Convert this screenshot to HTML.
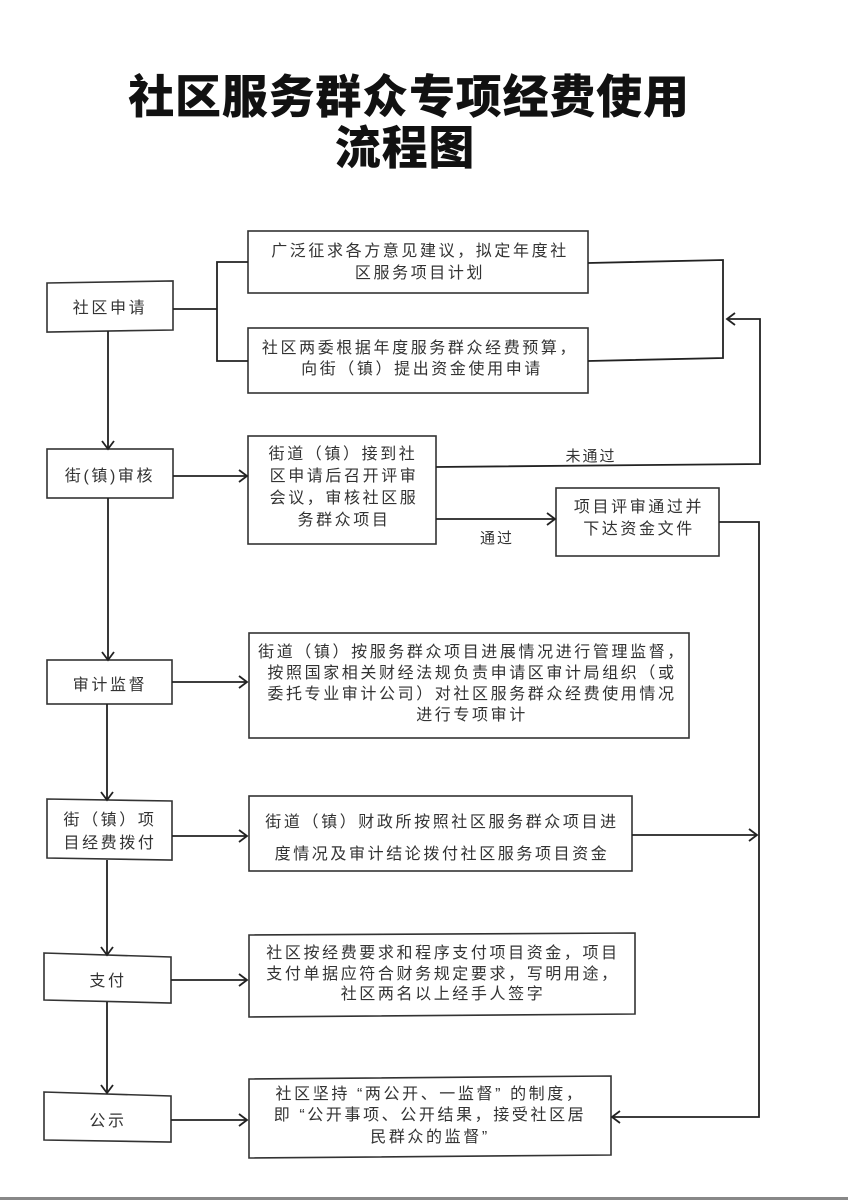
<!DOCTYPE html>
<html>
<head>
<meta charset="utf-8">
<style>
html,body{margin:0;padding:0;background:#fff;}
svg{display:block;}
.t{font-family:"Liberation Sans","Noto Sans CJK SC",sans-serif;font-size:16px;fill:#333;letter-spacing:2.6px;text-anchor:middle;}
.lb{font-family:"Liberation Sans","Noto Sans CJK SC",sans-serif;font-size:15px;fill:#333;letter-spacing:2px;text-anchor:middle;}
.title{font-family:"Liberation Sans","Noto Sans CJK SC",sans-serif;font-size:46px;font-weight:900;fill:#111;letter-spacing:0.8px;text-anchor:middle;}
.b{fill:none;stroke:#333;stroke-width:1.6;}
.l{fill:none;stroke:#222;stroke-width:1.8;}
</style>
</head>
<body>
<svg width="848" height="1200" viewBox="0 0 848 1200" xmlns="http://www.w3.org/2000/svg">
<rect x="0" y="0" width="848" height="1200" fill="#fff"/>

<!-- Title -->
<text class="title" x="409" y="113">社区服务群众专项经费使用</text>
<text class="title" x="405" y="164">流程图</text>

<!-- Boxes -->
<polygon class="b" points="47,283 173,281 173,330 47,332"/>
<text class="t" x="110" y="313">社区申请</text>

<rect class="b" x="248" y="231" width="340" height="62"/>
<text class="t" x="420" y="256">广泛征求各方意见建议，拟定年度社</text>
<text class="t" x="420" y="278">区服务项目计划</text>

<rect class="b" x="248" y="328" width="340" height="65"/>
<text class="t" x="420" y="353">社区两委根据年度服务群众经费预算，</text>
<text class="t" x="422" y="374">向街（镇）提出资金使用申请</text>

<rect class="b" x="47" y="449" width="126" height="49"/>
<text class="t" x="110" y="481">街(镇)审核</text>

<rect class="b" x="248" y="436" width="188" height="108"/>
<text class="t" x="343" y="459">街道（镇）接到社</text>
<text class="t" x="344" y="481">区申请后召开评审</text>
<text class="t" x="344" y="503">会议，审核社区服</text>
<text class="t" x="344" y="525">务群众项目</text>

<rect class="b" x="556" y="488" width="163" height="68"/>
<text class="t" x="639" y="512">项目评审通过并</text>
<text class="t" x="639" y="534">下达资金文件</text>

<rect class="b" x="47" y="660" width="125" height="44"/>
<text class="t" x="110" y="690">审计监督</text>

<rect class="b" x="249" y="633" width="440" height="105"/>
<text class="t" x="472" y="657">街道（镇）按服务群众项目进展情况进行管理监督，</text>
<text class="t" x="472" y="678">按照国家相关财经法规负责申请区审计局组织（或</text>
<text class="t" x="472" y="699">委托专业审计公司）对社区服务群众经费使用情况</text>
<text class="t" x="472" y="720">进行专项审计</text>

<polygon class="b" points="47,799 172,801 172,860 47,858"/>
<text class="t" x="110" y="825">街（镇）项</text>
<text class="t" x="110" y="848">目经费拨付</text>

<rect class="b" x="249" y="796" width="383" height="75"/>
<text class="t" x="442" y="827">街道（镇）财政所按照社区服务群众项目进</text>
<text class="t" x="442" y="859">度情况及审计结论拨付社区服务项目资金</text>

<polygon class="b" points="44,953 171,957 171,1003 44,1000"/>
<text class="t" x="108" y="986">支付</text>

<polygon class="b" points="249,935 635,933 635,1014 249,1017"/>
<text class="t" x="443" y="958">社区按经费要求和程序支付项目资金，项目</text>
<text class="t" x="443" y="979">支付单据应符合财务规定要求，写明用途，</text>
<text class="t" x="443" y="999">社区两名以上经手人签字</text>

<polygon class="b" points="44,1092 171,1096 171,1142 44,1140"/>
<text class="t" x="108" y="1126">公示</text>

<polygon class="b" points="249,1079 611,1076 611,1155 249,1158"/>
<text class="t" x="430" y="1099">社区坚持 “两公开、一监督” 的制度，</text>
<text class="t" x="430" y="1120">即 “公开事项、公开结果，接受社区居</text>
<text class="t" x="430" y="1142">民群众的监督”</text>

<!-- Bracket from 社区申请 -->
<polyline class="l" points="173,309 217,309"/>
<polyline class="l" points="248,262 217,262 217,361 248,361"/>
<!-- Right bracket -->
<polyline class="l" points="588,263 723,260 723,358 588,361"/>

<!-- 未通过 feedback -->
<polyline class="l" points="436,467 760,464 760,319 727,319"/>
<polyline class="l" points="735,313 727,319 735,325"/>
<text class="lb" x="591" y="461">未通过</text>

<!-- 通过 -->
<polyline class="l" points="436,519 555,519"/>
<polyline class="l" points="547,513 555,519 547,525"/>
<text class="lb" x="497" y="543">通过</text>

<!-- D right to 公示 -->
<polyline class="l" points="719,522 759,522 759,1117 612,1117"/>
<polyline class="l" points="620,1111 612,1117 620,1123"/>

<!-- F right arrow -->
<polyline class="l" points="632,835 757,835"/>
<polyline class="l" points="749,829 757,835 749,841"/>

<!-- Main vertical arrows -->
<polyline class="l" points="108,331 108,449"/>
<polyline class="l" points="102,441 108,449 114,441"/>
<polyline class="l" points="108,498 108,660"/>
<polyline class="l" points="102,652 108,660 114,652"/>
<polyline class="l" points="107,704 107,800"/>
<polyline class="l" points="101,792 107,800 113,792"/>
<polyline class="l" points="107,860 107,955"/>
<polyline class="l" points="101,947 107,955 113,947"/>
<polyline class="l" points="107,1002 107,1093"/>
<polyline class="l" points="101,1085 107,1093 113,1085"/>

<!-- Horizontal arrows to right boxes -->
<polyline class="l" points="173,476 247,476"/>
<polyline class="l" points="239,470 247,476 239,482"/>
<polyline class="l" points="172,682 247,682"/>
<polyline class="l" points="239,676 247,682 239,688"/>
<polyline class="l" points="172,836 247,836"/>
<polyline class="l" points="239,830 247,836 239,842"/>
<polyline class="l" points="171,980 247,980"/>
<polyline class="l" points="239,974 247,980 239,986"/>
<polyline class="l" points="171,1120 247,1120"/>
<polyline class="l" points="239,1114 247,1120 239,1126"/>

<!-- bottom edge band -->
<rect x="0" y="1197" width="848" height="3" fill="#888"/>
</svg>
</body>
</html>
